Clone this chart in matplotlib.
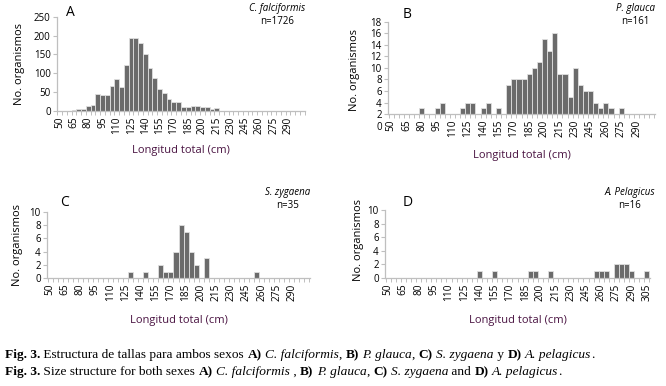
import matplotlib
matplotlib.use("Agg")
import matplotlib.pyplot as plt
import numpy as np

# ---------------- data ----------------
categories = list(range(50, 310, 5))  # 50..305 cm, 52 classes

falciformis = [0, 0, 1, 3, 5, 5, 12, 16, 46, 42, 42, 67, 86, 64, 123, 193, 193, 181,
               152, 114, 87, 57, 47, 33, 24, 24, 10, 10, 14, 14, 11, 11, 6, 8,
               0, 0, 0, 0, 0, 0, 0, 0, 0, 0, 0, 0, 0, 0, 0, 0, 0, 0]
glauca = [0, 0, 0, 0, 0, 0, 3, 0, 0, 3, 4, 0, 0, 0, 3, 4, 4, 0, 3, 4, 0, 3, 0,
          7, 8, 8, 8, 9, 10, 11, 15, 13, 16, 9, 9, 5, 10, 7, 6, 6, 4, 3, 4, 3, 0, 3,
          0, 0, 0, 0, 0, 0]
zygaena = [0, 0, 0, 0, 0, 0, 0, 0, 0, 0, 0, 0, 0, 0, 0, 0, 1, 0, 0, 1, 0, 0, 2,
           1, 1, 4, 8, 7, 4, 2, 0, 3, 0, 0, 0, 0, 0, 0, 0, 0, 0, 1, 0, 0, 0, 0,
           0, 0, 0, 0, 0, 0]
pelagicus = [0, 0, 0, 0, 0, 0, 0, 0, 0, 0, 0, 0, 0, 0, 0, 0, 0, 0, 1, 0, 0, 1, 0,
             0, 0, 0, 0, 0, 1, 1, 0, 0, 1, 0, 0, 0, 0, 0, 0, 0, 0, 1, 1, 1, 0, 2,
             2, 2, 1, 0, 0, 1]

panel_letters = ["A", "B", "C", "D"]
species = ["C. falciformis", "P. glauca", "S. zygaena", "A. Pelagicus"]
n_labels = ["n=1726", "n=161", "n=35", "n=16"]
y_ticks = [[0, 50, 100, 150, 200, 250], list(range(0, 20, 2)),
           list(range(0, 12, 2)), list(range(0, 12, 2))]
y_lims = [(0, 250), (0, 18), (0, 10), (0, 10)]
bar_base = [0, 2, 0, 0]
last_label = [290, 290, 290, 305]
series = [falciformis, glauca, zygaena, pelagicus]

# ---------------- style ----------------
W, H = 666, 386
fig = plt.figure(figsize=(W / 100, H / 100), dpi=100)
fig.patch.set_facecolor("white")
FONT = ["Open Sans", "DejaVu Sans"]
BAR = "#6b6b6b"
EDGE = "#e0e0e0"
AX = "#bfbfbf"
XLAB = "#4a1442"

# axes rectangles in pixels: (left, right, y_of_ymin, y_of_ymax)
rects = [(57, 305, 111, 16.7),
         (388, 655, 125.7, 21.7),
         (47, 310, 278.3, 211.7),
         (385, 650, 277.7, 210)]
# annotation positions (px): letter (x,y), species right x, species y, n y
ann = [((66, 12), 305, 8, 22),
       ((403, 15), 655, 8, 22),
       ((60, 203), 310, 192, 205),
       ((403, 203), 655, 192, 205)]
ylab_x = [20, 355, 18, 358]
xlab_pad = [8, 9, 10, 10]

x = np.arange(len(categories))

for k in range(4):
    l, r, yb, yt = rects[k]
    ax = fig.add_axes([l / W, 1 - yb / H, (r - l) / W, (yb - yt) / H])
    vals = np.array(series[k], dtype=float)
    base = bar_base[k]
    mask = vals > 0
    ax.bar(x[mask], vals[mask] - base, bottom=base, width=1.0, color=BAR,
           edgecolor=EDGE, linewidth=0.6, zorder=2)
    ax.set_xlim(-0.6, len(categories) - 0.4)
    ax.set_ylim(*y_lims[k])
    for s in ["top", "right"]:
        ax.spines[s].set_visible(False)
    for s in ["left", "bottom"]:
        ax.spines[s].set_color(AX)
        ax.spines[s].set_linewidth(0.9)
    if base:
        ax.spines["bottom"].set_position(("data", base))
        ax.spines["left"].set_bounds(base, y_lims[k][1])
    # y ticks
    ax.set_yticks(y_ticks[k])
    ax.set_yticklabels([str(v) for v in y_ticks[k]], fontsize=7, family=FONT)
    ax.tick_params(axis="y", length=3, width=0.8, color=AX, pad=1.5)
    if base:
        ax.yaxis.get_major_ticks()[0].tick1line.set_visible(False)
    # x ticks: labels every 3 classes, marks at every class boundary
    lab_idx = [i for i, c in enumerate(categories) if (c - 50) % 15 == 0 and c <= last_label[k]]
    ax.set_xticks(lab_idx)
    ax.set_xticklabels([str(categories[i]) for i in lab_idx], rotation=90,
                       fontsize=7.3, family=FONT)
    ax.tick_params(axis="x", which="major", length=0, pad=4)
    ax.set_xticks(np.arange(-0.5, len(categories), 1.0), minor=True)
    ax.tick_params(axis="x", which="minor", length=3, width=0.7, color=AX)
    ax.set_xlabel("Longitud total (cm)", fontsize=8, family=FONT, color=XLAB,
                  labelpad=xlab_pad[k])
    # y label
    fig.text(ylab_x[k] / W, 1 - ((yb + yt) / 2 + (0 if k % 2 == 0 else -4)) / H,
             "No. organismos", rotation=90, fontsize=8, family=FONT,
             ha="center", va="center")
    (lx, ly), sx, sy, ny = ann[k]
    fig.text(lx / W, 1 - ly / H, panel_letters[k], fontsize=10, family=FONT,
             ha="left", va="center")
    t = fig.text(sx / W, 1 - sy / H, species[k], fontsize=7, family=FONT,
                 style="italic", ha="right", va="center")
    fig.canvas.draw()
    bb = t.get_window_extent()
    cx = (bb.x0 + bb.x1) / 2
    fig.text(cx / W, 1 - ny / H, n_labels[k], fontsize=7, family=FONT,
             ha="center", va="center")

# ---------------- caption ----------------
serif = "Liberation Serif"
line1 = [("Fig. 3.", "bold", "normal"), (" Estructura de tallas para ambos sexos ", "normal", "normal"),
         ("A)", "bold", "normal"), (" ", "normal", "normal"), ("C. falciformis", "normal", "italic"),
         (", ", "normal", "normal"), ("B)", "bold", "normal"), (" ", "normal", "normal"),
         ("P. glauca", "normal", "italic"), (", ", "normal", "normal"), ("C)", "bold", "normal"),
         (" ", "normal", "normal"), ("S. zygaena", "normal", "italic"), (" y ", "normal", "normal"),
         ("D)", "bold", "normal"), (" ", "normal", "normal"), ("A. pelagicus", "normal", "italic"),
         (".", "normal", "normal")]
line2 = [("Fig. 3.", "bold", "normal"), (" Size structure for both sexes ", "normal", "normal"),
         ("A)", "bold", "normal"), (" ", "normal", "normal"), ("C. falciformis", "normal", "italic"),
         (" , ", "normal", "normal"), ("B)", "bold", "normal"), (" ", "normal", "normal"),
         ("P. glauca", "normal", "italic"), (", ", "normal", "normal"), ("C)", "bold", "normal"),
         (" ", "normal", "normal"), ("S. zygaena", "normal", "italic"), (" and ", "normal", "normal"),
         ("D)", "bold", "normal"), (" ", "normal", "normal"), ("A. pelagicus", "normal", "italic"),
         (".", "normal", "normal")]

renderer = fig.canvas.get_renderer()


def draw_line(pieces, y_px, size):
    xp = 5.0
    for s, w, st in pieces:
        txt = s.replace(" ", "\u00a0")
        t = fig.text(xp / W, 1 - y_px / H, txt, fontsize=size, family=serif,
                     weight=w, style=st, ha="left", va="center")
        bb = t.get_window_extent(renderer)
        xp += bb.width


draw_line(line1, 355, 9.6)
draw_line(line2, 372, 9.6)

fig.savefig("out.png", dpi=100, facecolor="white")
